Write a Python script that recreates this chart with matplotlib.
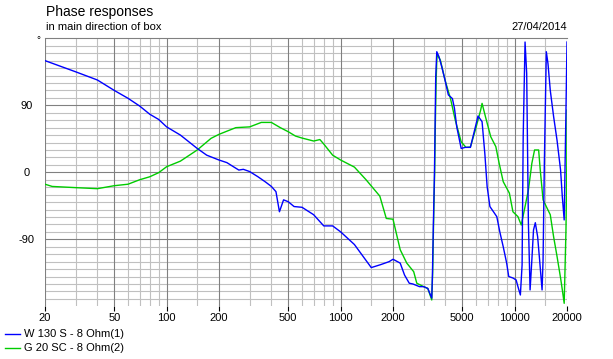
import matplotlib
matplotlib.use('Agg')
import matplotlib.pyplot as plt
from matplotlib.lines import Line2D
from matplotlib.ticker import FixedLocator, NullFormatter

plt.rcParams['font.family'] = ['Liberation Sans', 'DejaVu Sans']

# W 130 S - 8 Ohm(1), blue
freq_w = [20, 30, 40, 50, 60, 70, 80, 90, 100, 120, 150, 170, 200,
          222, 242, 260, 276, 300, 335, 370, 400, 425, 445, 470, 500, 540,
          600, 700, 800, 900, 1000, 1200, 1500, 1700, 1900, 2000,
          2200, 2330, 2480, 2600, 2840, 3000, 3170, 3340,
          3370, 3410, 3460, 3490, 3520, 3570,
          3680, 3810, 3980, 4160, 4390, 4510, 4650, 4930,
          5200, 5570, 5950, 6160, 6500, 6740, 6950, 7210,
          7610, 7900, 8220, 8600, 9000, 9250, 9780,
          10200, 10450, 10790, 11040, 11200, 11480, 11730,
          12000, 12270, 12560, 12840, 13150, 13560, 13920,
          14380, 14570, 14820, 15210, 15550, 16030, 16750,
          17530, 18370, 18800, 19270, 19730, 20000]
phase_w = [150, 135, 124, 110, 99.4, 89, 78, 71, 61, 50, 32, 23, 16.5,
           13, 7.5, 3, 4, 1, -6, -13, -19, -26, -53, -37, -39.5, -46,
           -47, -57, -72, -72, -80, -97, -128, -124, -120, -116.8,
           -122, -138, -149, -150, -153.6, -153.6, -156, -169,
           -138, -73, -3.6, 61, 128, 162,
           155, 142, 124, 104, 99, 86, 61, 32,
           33.5, 33.5, 61, 75.6, 68, 25.5, -19, -46,
           -54, -59.6, -80, -100, -122, -140, -142,
           -144.6, -153.6, -164.8, -124.5, 47.8, 175, 133,
           -68.5, -158, -118, -77.5, -67.7, -86.5, -117.8,
           -158, -118, 12, 162, 146, 110, 75,
           43, 3, -33, -64, 83.6, 175]

# G 20 SC - 8 Ohm(2), green
freq_g = [20, 22, 30, 40, 50, 60, 70, 80, 90, 100,
          120, 150, 180, 200, 250, 300, 350, 400, 450, 500,
          550, 600, 700, 760, 800, 900, 1000, 1200, 1400, 1680,
          1830, 2000, 2200, 2400, 2630, 2740, 3000, 3170, 3340, 3380,
          3420, 3470, 3500, 3540, 3580, 3740, 3980, 4280, 4560, 4930,
          5250, 5570, 5950, 6380, 6500, 6800, 7290, 7800, 8150, 8600,
          9330, 9780, 10450, 10920, 11480, 12000, 12560, 13020, 13740, 14040,
          14570, 15350, 16030, 16750, 17530, 18370, 18800, 19270, 19730, 19950,
          20000]
phase_g = [-16, -19, -20.6, -22, -18, -16, -10, -6, -0.5, 7.5,
           15, 30, 45.6, 51, 60, 61, 67, 67, 60, 54.5,
           48.7, 46, 42, 44, 38, 23, 16.5, 7, -10, -32,
           -62, -63, -104, -122, -133.5, -149, -153.6, -156, -171.5, -135,
           -70, 0, 60, 124, 158, 151, 124, 99, 70, 41,
           33.5, 34, 57, 83.6, 92.6, 74.6, 47.8, 34.4, 12, -12.6,
           -28, -53, -59.6, -70.8, -46, -23.8, 12, 30, 30, 3,
           -37, -48, -57, -86.5, -113, -142, -158, -176, -77, 12,
           83.6]

x_major = [20, 50, 100, 200, 500, 1000, 2000, 5000, 10000, 20000]
x_minor = [30, 40, 60, 70, 80, 90, 150, 300, 400, 600, 700, 800, 900,
           1500, 3000, 4000, 6000, 7000, 8000, 9000, 15000]
y_labels = [-90, 0, 90]

W, H = 613, 359
fig = plt.figure(figsize=(W / 100, H / 100), dpi=100)
ax = fig.add_axes([45 / W, 1 - 306.3 / H, 522 / W, 268 / H])

ax.set_xscale('log')
ax.set_xlim(20, 20000)
ax.set_ylim(-180, 180)

# grid
for v in range(-170, 180, 10):
    if v % 90:
        ax.axhline(v, color='#c0c0c0', lw=0.8, zorder=1)
for v in (-90, 0, 90):
    ax.axhline(v, color='#808080', lw=0.8, zorder=1.5)
for f in x_minor:
    ax.axvline(f, color='#c0c0c0', lw=0.8, zorder=1)
for f in x_major:
    ax.axvline(f, color='#808080', lw=0.8, zorder=1.5)

ax.plot(freq_w, phase_w, color='#0000ff', lw=1.0, zorder=3)
ax.plot(freq_g, phase_g, color='#00cc00', lw=1.0, zorder=2)

for s in ('bottom', 'right', 'left'):
    ax.spines[s].set_visible(False)
ax.spines['top'].set_color('#808080')
ax.spines['top'].set_linewidth(0.8)

ax.xaxis.set_major_locator(FixedLocator(x_major))
ax.xaxis.set_minor_locator(FixedLocator(x_minor))
ax.xaxis.set_minor_formatter(NullFormatter())
ax.set_xticklabels([str(f) for f in x_major])
ax.tick_params(axis='x', which='major', length=3.6, width=0.8, color='black',
               pad=1.5, labelsize=8)
ax.tick_params(axis='x', which='minor', length=0)
ax.set_yticks(y_labels)
ax.set_yticklabels([str(v) for v in y_labels], ha='center')
ax.tick_params(axis='y', length=0, pad=13, labelsize=8)

fig.text(46 / W, 1 - 11.7 / H, 'Phase responses', fontsize=10,
         ha='left', va='center')
fig.text(46 / W, 1 - 26.7 / H, 'in main direction of box', fontsize=8,
         ha='left', va='center')
fig.text(567 / W, 1 - 26.7 / H, '27/04/2014', fontsize=8,
         ha='right', va='center')
fig.text(38 / W, 1 - 40 / H, '°', fontsize=7, ha='center', va='center')

# legend
legend = [('W 130 S - 8 Ohm(1)', '#0000ff', 334.3),
          ('G 20 SC - 8 Ohm(2)', '#00cc00', 348.3)]
for label, color, y in legend:
    fig.add_artist(Line2D([5 / W, 20 / W], [1 - y / H, 1 - y / H],
                          color=color, lw=1.0))
    fig.text(24.5 / W, 1 - y / H, label, fontsize=8, ha='left', va='center')

fig.savefig('out.png', dpi=100, facecolor='white')
